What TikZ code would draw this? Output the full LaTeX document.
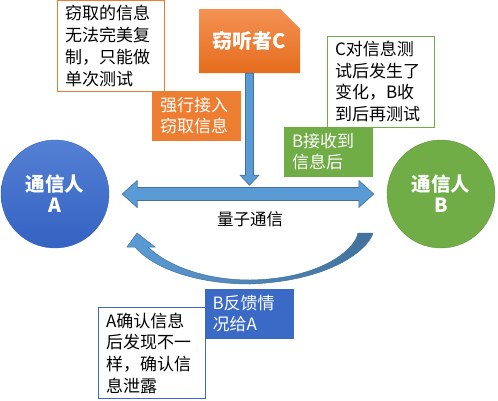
\documentclass[tikz,border=0pt]{standalone}
\usepackage{fontspec}
\setmainfont{Noto Sans CJK SC}
\usetikzlibrary{shapes.misc, calc}

\definecolor{cOrange}{RGB}{237,125,49}
\definecolor{cOrangeTop}{RGB}{244,146,84}
\definecolor{cOrangeBot}{RGB}{229,108,28}
\definecolor{cGreen}{RGB}{112,173,71}
\definecolor{cGreenEdge}{RGB}{96,150,60}
\definecolor{cBlueTop}{RGB}{84,128,212}
\definecolor{cBlueBot}{RGB}{52,98,194}
\definecolor{cBoxBlue}{RGB}{58,106,198}
\definecolor{cArrow}{RGB}{91,155,213}
\definecolor{cArrowDark}{RGB}{65,113,156}

\begin{document}
\begin{tikzpicture}[
    x=1pt, y=-1pt,
    person/.style={circle, minimum size=108pt, inner sep=0pt, align=center,
                   text=white, font=\fontsize{19.5}{21}\selectfont\bfseries},
    note/.style={draw, fill=white, line width=0.8pt, text width=91pt,
                 inner xsep=8pt, minimum height=91pt, align=left,
                 font=\fontsize{17}{21.7}\selectfont},
    tag/.style={text width=73pt, inner xsep=8pt, minimum height=50pt,
                align=left, text=white, font=\fontsize{17}{21}\selectfont},
    blockarrow/.style={fill=cArrow, draw=cArrowDark, line width=0.6pt}
  ]
    \useasboundingbox (0,0) rectangle (498,400);

    % the two parties
    \node[person, top color=cBlueTop, bottom color=cBlueBot, draw=cBlueBot] (A) at (55,194) {通信人\\A};
    \node[person, fill=cGreen, draw=cGreenEdge] (B) at (441,194) {通信人\\B};

    % eavesdropper and its tap
    \node[chamfered rectangle, chamfered rectangle corners=north east,
          chamfered rectangle xsep=11pt, chamfered rectangle ysep=10pt,
          minimum width=101pt, minimum height=64pt, inner sep=0pt,
          top color=cOrangeTop, bottom color=cOrangeBot, text=white,
          font=\fontsize{20}{22}\selectfont\bfseries] (eve) at (249.5,41) {窃听者C};

    \coordinate (cTip) at ($(eve.south)+(0,112)$);
    \filldraw[blockarrow] ($(eve.south)+(-4,0)$) -- ($(cTip)+(-4,-10)$) -- ($(cTip)+(-9.5,-10)$)
      -- (cTip) -- ($(cTip)+(9.5,-10)$) -- ($(cTip)+(4,-10)$) -- ($(eve.south)+(4,0)$) -- cycle;

    % quantum channel
    \coordinate (qL) at ([xshift=13pt]A.east);
    \coordinate (qR) at ([xshift=-13pt]B.west);
    \filldraw[blockarrow] (qL) -- ($(qL)+(15,-13.5)$) -- ($(qL)+(15,-6.5)$) -- ($(qR)+(-15,-6.5)$)
      -- ($(qR)+(-15,-13.5)$) -- (qR) -- ($(qR)+(-15,13.5)$) -- ($(qR)+(-15,6.5)$)
      -- ($(qL)+(15,6.5)$) -- ($(qL)+(15,13.5)$) -- cycle;
    \node[font=\fontsize{16.5}{19}\selectfont] (qlabel) at (250,219) {量子通信};

    % feedback from B to A
    \shade[left color=cArrow, right color=cArrowDark, draw=cArrowDark, line width=0.5pt]
      (373,233) .. controls (368,250) and (330,281) .. (250,284)
      .. controls (200,284) and (155,270) .. (135,247) -- (127,247) -- (137,233)
      -- (155,247) -- (148,247) .. controls (168,266) and (205,280) .. (250,280)
      .. controls (320,279) and (355,250) .. (358,233) -- cycle;

    % notes
    \node[note, draw=cOrange] (leak) at (110.5,46) {窃取的信息\\无法完美复\\制，只能做\\单次测试};
    \node[tag, fill=cOrange] (tap) at (196.5,115.5) {强行接入\\窃取信息};

    \node[note, draw=cGreen] (retest) at (380.5,81.5) {C对信息测\\试后发生了\\变化，B收\\到后再测试};
    \node[tag, fill=cGreen] (recv) at (328.5,152) {B接收到\\信息后};

    \node[tag, fill=cBoxBlue] (feedback) at (249,314) {B反馈情\\况给A};
    \node[note, draw=cBoxBlue] (confirm) at (151.5,353) {A确认信息\\后发现不一\\样，确认信\\息泄露};
  \end{tikzpicture}
\end{document}
